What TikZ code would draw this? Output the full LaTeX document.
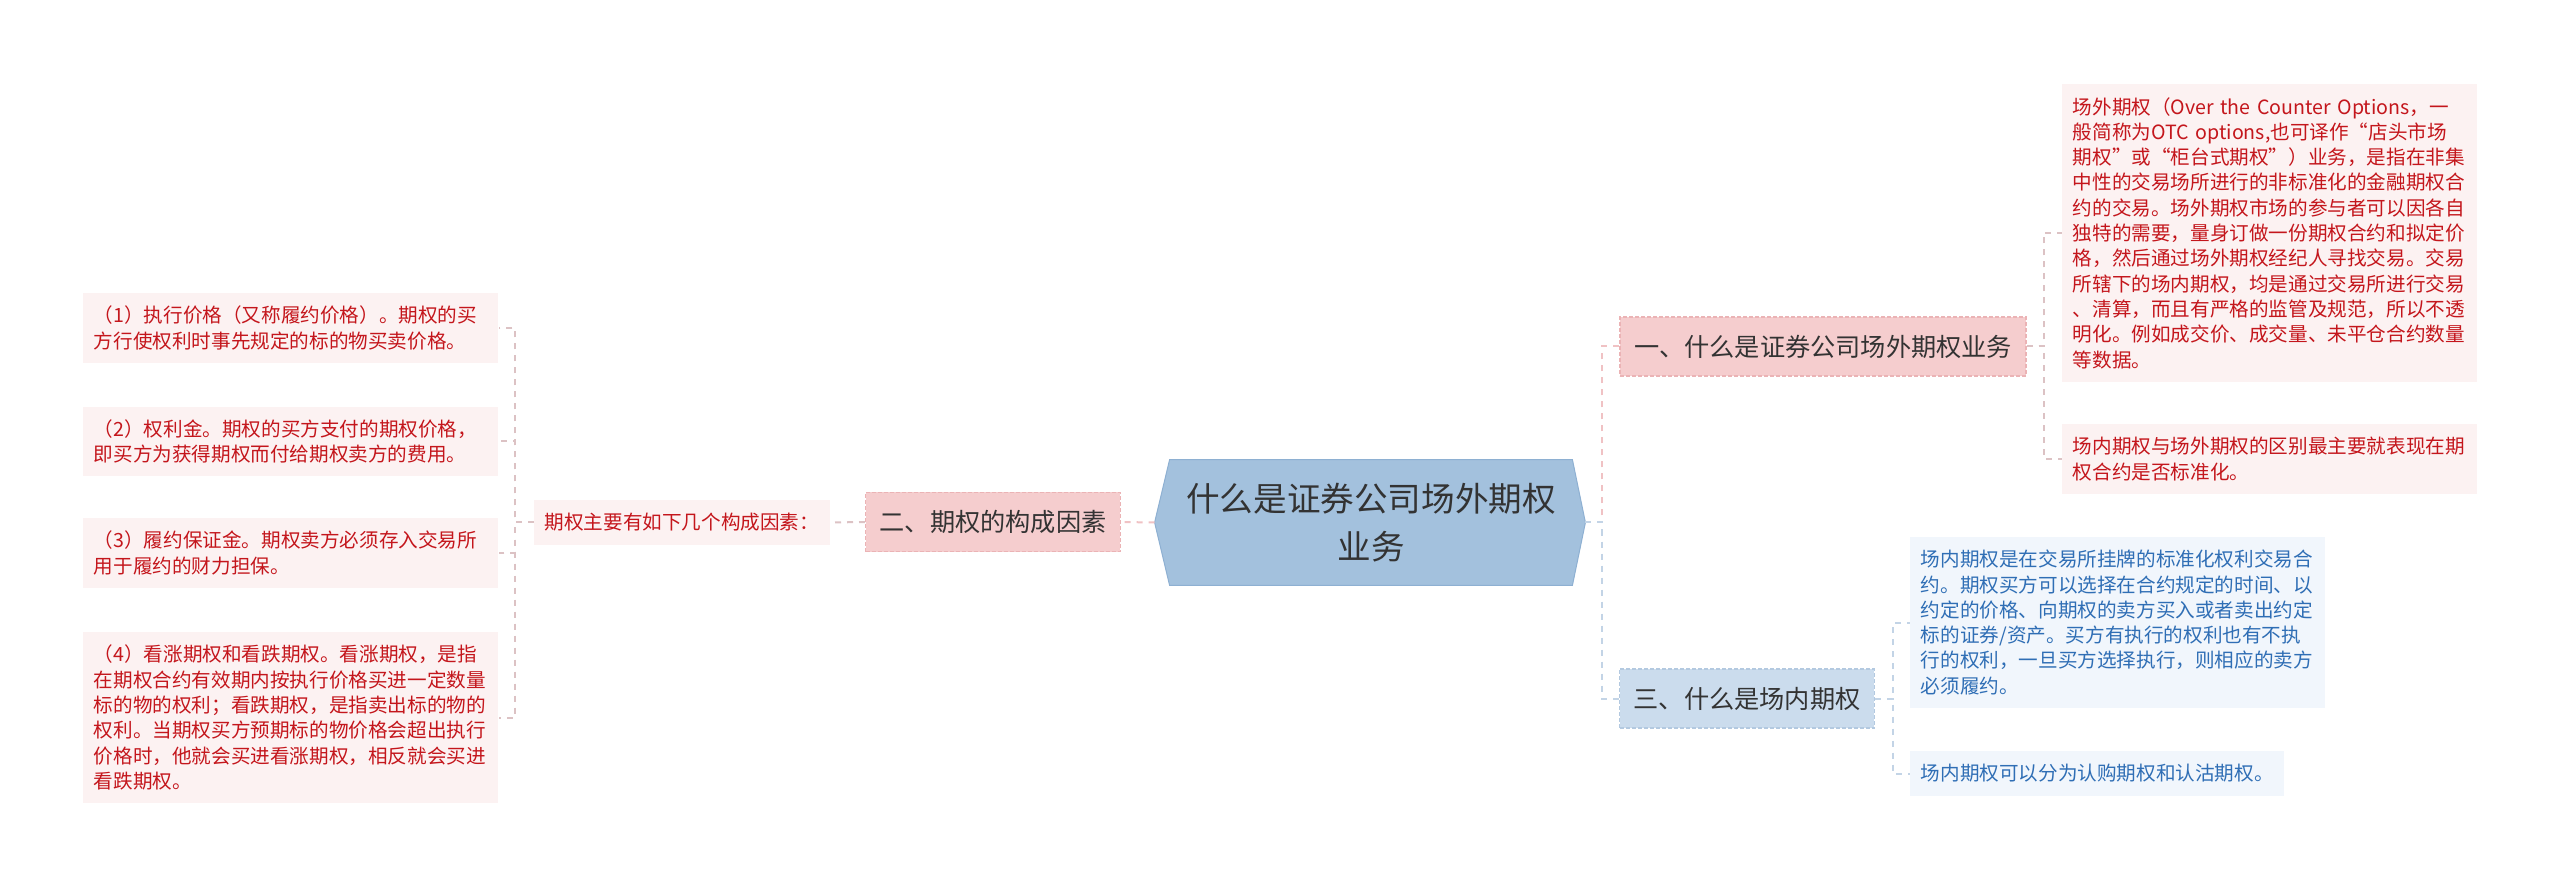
\documentclass[tikz,border=0pt]{standalone}
\usepackage{fontspec}
\setmainfont{Noto Sans CJK SC}
\usepackage{xcolor}
\usetikzlibrary{positioning}

\definecolor{hubfill}{HTML}{A3C1DD}
\definecolor{hubedge}{HTML}{8EB0D2}
\definecolor{topicred}{HTML}{F5CDCE}
\definecolor{topicredline}{HTML}{EBB3B5}
\definecolor{topicblue}{HTML}{CBDCED}
\definecolor{topicblueline}{HTML}{B3C9E0}
\definecolor{leafred}{HTML}{FCF2F2}
\definecolor{leafblue}{HTML}{F1F6FC}
\definecolor{inkred}{HTML}{C4161C}
\definecolor{inkblue}{HTML}{2F6EB5}
\definecolor{inkgray}{HTML}{333333}
\definecolor{linkred}{HTML}{F0C2C4}
\definecolor{linkgrey}{HTML}{DCC2C4}
\definecolor{linkblue}{HTML}{C3D4E6}

\begin{document}
\begin{tikzpicture}[x=0.5pt, y=-0.5pt,
  hub/.style={minimum width=201pt, minimum height=62.5pt, inner sep=0pt, align=center, text=inkgray, font=\fontsize{16.8pt}{24pt}\selectfont},
  topic/.style={fill=topicred, draw=topicredline, dash pattern=on 2pt off 1pt, line width=0.6pt, minimum height=29.5pt, inner xsep=7pt, text=inkgray, font=\fontsize{12.6pt}{15pt}\selectfont},
  bluetopic/.style={topic, fill=topicblue, draw=topicblueline},
  leaf/.style={fill=leafred, text=inkred, align=left, inner xsep=5.25pt, inner ysep=6.5pt, font=\fontsize{9.8pt}{12.65pt}\selectfont},
  blueleaf/.style={leaf, fill=leafblue, text=inkblue},
  wide/.style={text width=197pt},
  redline/.style={draw=linkred, line width=1pt, dash pattern=on 3pt off 3pt},
  greyline/.style={redline, draw=linkgrey},
  blueline/.style={redline, draw=linkblue}
]
\useasboundingbox (0,0) rectangle (2560,887);

\node[hub] (hub) at (1371,522.5) {};
\coordinate (hubL) at ([xshift=-7.5pt]hub.west);
\coordinate (hubR) at ([xshift=6.5pt]hub.east);
\filldraw[fill=hubfill, draw=hubedge, line width=0.5pt] (hub.north west) -- (hub.north east) -- (hubR) -- (hub.south east) -- (hub.south west) -- (hubL) -- cycle;
\node[hub] at (hub.center) {什么是证券公司场外期权\\业务};

% left branch
\node[topic] (two) at (993,522) {二、期权的构成因素};
\node[leaf, anchor=east] (factors) at (830,522.5) {期权主要有如下几个构成因素：};
\node[leaf, wide, anchor=west] (opt1) at (83,328) {（1）执行价格（又称履约价格）。期权的买\\方行使权利时事先规定的标的物买卖价格。};
\node[leaf, wide, anchor=west] (opt2) at (83,441.5) {（2）权利金。期权的买方支付的期权价格，\\即买方为获得期权而付给期权卖方的费用。};
\node[leaf, wide, anchor=west] (opt3) at (83,553) {（3）履约保证金。期权卖方必须存入交易所\\用于履约的财力担保。};
\node[leaf, wide, anchor=west] (opt4) at (83,717.5) {（4）看涨期权和看跌期权。看涨期权，是指\\在期权合约有效期内按执行价格买进一定数量\\标的物的权利；看跌期权，是指卖出标的物的\\权利。当期权买方预期标的物价格会超出执行\\价格时，他就会买进看涨期权，相反就会买进\\看跌期权。};

% right branches
\node[topic] (one) at (1823,346.5) {一、什么是证券公司场外期权业务};
\node[bluetopic] (three) at (1747,698.5) {三、什么是场内期权};
\node[leaf, wide, anchor=west] (otc1) at (2062,233) {场外期权（Over~the~Counter~Options，一\\般简称为OTC~options,也可译作“店头市场\\期权”或“柜台式期权”）业务，是指在非集\\中性的交易场所进行的非标准化的金融期权合\\约的交易。场外期权市场的参与者可以因各自\\独特的需要，量身订做一份期权合约和拟定价\\格，然后通过场外期权经纪人寻找交易。交易\\所辖下的场内期权，均是通过交易所进行交易\\、清算，而且有严格的监管及规范，所以不透\\明化。例如成交价、成交量、未平仓合约数量\\等数据。};
\node[leaf, wide, anchor=west] (otc2) at (2062,459) {场内期权与场外期权的区别最主要就表现在期\\权合约是否标准化。};
\node[blueleaf, wide, anchor=west] (ex1) at (1910,622.5) {场内期权是在交易所挂牌的标准化权利交易合\\约。期权买方可以选择在合约规定的时间、以\\约定的价格、向期权的卖方买入或者卖出约定\\标的证券/资产。买方有执行的权利也有不执\\行的权利，一旦买方选择执行，则相应的卖方\\必须履约。};
\node[blueleaf, anchor=west] (ex2) at (1910,773.5) {场内期权可以分为认购期权和认沽期权。};

\draw[redline] (hubL) -- (two.east);
\draw[greyline] (two.west) -- (factors.east);
\foreach \n in {opt1,opt2,opt3,opt4}
  \draw[greyline] (factors.west) -- ++(-19,0) |- (\n.east);
\draw[redline] (hubR) -- ++(17,0) |- (one.west);
\draw[blueline] (hubR) -- ++(17,0) |- (three.west);
\foreach \n in {otc1,otc2}
  \draw[greyline] (one.east) -- ++(17,0) |- (\n.west);
\foreach \n in {ex1,ex2}
  \draw[blueline] (three.east) -- ++(18,0) |- (\n.west);
\end{tikzpicture}
\end{document}
